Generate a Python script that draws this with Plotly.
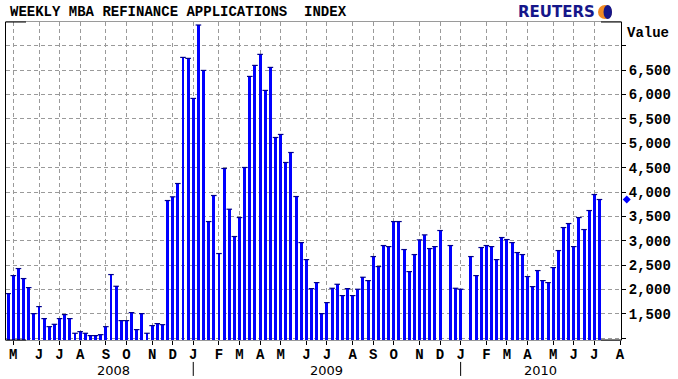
import pandas as pd
import plotly.graph_objects as go

# ---------------- data ----------------
first_week = "2008-04-25"   # weekly (Friday) observations
index_values = [
    1917, 2286, 2430, 2225, 2040, 1506, 1650, 1404, 1239, 1287,
    1404, 1486, 1404, 1103, 1137, 1103, 1055, 1055, 1075, 1239,
    2307, 2067, 1363, 1363, 1527, 1178, 1506, 1103, 1260, 1301,
    1280, 3825, 3901, 4174, 6760, 6740, 5919, 7424, 6493, 3394,
    3928, 2738, 4482, 3647, 3087, 3476, 4503, 6370, 6596, 6822,
    6083, 6555, 5118, 5180, 4605, 4810, 3907, 2963, 2614, 2019,
    2142, 1506, 1732, 2026, 2108, 1876, 2019, 1876, 2006, 2252,
    2183, 2676, 2471, 2902, 2881, 3394, 3394, 2820, 2368, 2717,
    3018, 3121, 2840, 2881, 3210, None, 2902, 2026, 2006, None,
    2676, 2286, 2861, 2902, 2881, 2614, 3066, 3025, 2963, 2758,
    2717, 2266, 2060, 2389, 2183, 2142, 2450, 2799, 3271, 3353,
    2881, 3476, 3230, 3620, 3948, 3846,
]
month_labels = ["M", "J", "J", "A", "S", "O", "N", "D",
                "J", "F", "M", "A", "M", "J", "J", "A", "S", "O", "N", "D",
                "J", "F", "M", "A", "M", "J", "J", "A"]
year_labels = ["2008", "2009", "2010"]
y_tick_values = [1000, 1500, 2000, 2500, 3000, 3500, 4000, 4500, 5000, 5500, 6000, 6500, 7000]
y_tick_text = ["", "1,500", "2,000", "2,500", "3,000", "3,500", "4,000", "4,500",
               "5,000", "5,500", "6,000", "6,500", ""]

dates = pd.date_range(first_week, periods=len(index_values), freq="7D")

# month ticks: first weekly date of each month, May 2008 .. Aug 2010
all_fridays = pd.date_range("2008-05-01", "2010-08-06", freq="W-FRI")
tick_dates = pd.Series(all_fridays).groupby([all_fridays.year, all_fridays.month]).first().tolist()

x_start = pd.Timestamp("2008-04-22 01:30")
x_end = pd.Timestamp("2010-08-07 08:00")
y_min, y_max = 965, 7486

MONO = "Liberation Mono, Courier New, monospace"
SANS = "DejaVu Sans, Verdana, sans-serif"
GRID = "#9a9a9a"

fig = go.Figure()
fig.add_trace(go.Bar(
    x=dates, y=index_values,
    width=4.0 * 86400000,
    marker=dict(color="#0000ff", line=dict(width=0)),
    hoverinfo="x+y", showlegend=False,
))
# dark caps on bar tops
fig.add_trace(go.Scatter(
    x=dates, y=index_values, mode="markers",
    marker=dict(symbol="line-ew", size=4, line=dict(color="#00008b", width=1.2)),
    hoverinfo="skip", showlegend=False,
))

fig.update_layout(
    width=678, height=379,
    margin=dict(l=6, r=57, t=22, b=39, autoexpand=False),
    paper_bgcolor="white", plot_bgcolor="white",
    bargap=0,
    xaxis=dict(
        type="date", range=[x_start, x_end],
        tickvals=tick_dates, ticktext=month_labels, tickangle=0, automargin=False,
        tickfont=dict(family=MONO, size=14, color="black", weight="bold"),
        ticks="outside", ticklen=4, tickcolor="black", ticklabelstandoff=-3,
        showgrid=True, gridcolor=GRID, griddash="4px,3px", gridwidth=1,
        showline=True, linecolor=GRID, linewidth=1, mirror=True,
        zeroline=False, fixedrange=True,
    ),
    yaxis=dict(
        side="right", range=[y_min, y_max], automargin=False,
        tickvals=y_tick_values, ticktext=y_tick_text,
        tickfont=dict(family=MONO, size=14, color="black", weight="bold"),
        ticks="outside", ticklen=4, tickcolor="black",
        showgrid=True, gridcolor=GRID, griddash="4px,3px", gridwidth=1,
        showline=True, linecolor="black", linewidth=1, mirror=True,
        zeroline=False, fixedrange=True,
    ),
)

annotations = [
    dict(text="WEEKLY MBA REFINANCE APPLICATIONS  INDEX", xref="paper", yref="paper",
         x=0.003, y=1.031, xanchor="left", yanchor="middle", showarrow=False,
         font=dict(family=MONO, size=14, color="black", weight="bold")),
    dict(text="Value", xref="paper", yref="paper", x=1.007, y=0.966,
         xanchor="left", yanchor="middle", showarrow=False,
         font=dict(family=MONO, size=14, color="black", weight="bold")),
    dict(text="REUTERS", xref="paper", yref="paper", x=0.829, y=1.031,
         xanchor="left", yanchor="middle", showarrow=False,
         font=dict(family=SANS, size=15, color="#15168a", weight="bold")),
]
year_pos = [pd.Timestamp("2008-09-16"), pd.Timestamp("2009-07-03"), pd.Timestamp("2010-04-20")]
for lab, xp in zip(year_labels, year_pos):
    annotations.append(dict(text=lab, xref="x", yref="paper", x=xp, y=-0.097,
                            xanchor="center", yanchor="middle", showarrow=False,
                            font=dict(family=SANS, size=13, color="black")))
fig.update_layout(annotations=annotations)

shapes = []
# year separators at January ticks
for d in tick_dates:
    if d.month == 1:
        shapes.append(dict(type="line", xref="x", yref="paper", x0=d, x1=d,
                           y0=-0.069, y1=-0.113, line=dict(color="black", width=1)))
# black corner segments
seg = 20 / 615
for (xa, xb) in [(0, seg), (1 - seg, 1)]:
    for yv in [0, 1]:
        shapes.append(dict(type="line", xref="paper", yref="paper", x0=xa, x1=xb,
                           y0=yv, y1=yv, line=dict(color="black", width=1)))
# last-value diamond on the value axis
last_val = [v for v in index_values if v is not None][-1]
px_per_unit = 318 / (y_max - y_min)
dy = 4 / px_per_unit
cx, dx = 1.0093, 4 / 615
shapes.append(dict(type="path", xref="paper", yref="y",
                   path=f"M {cx},{last_val + dy} L {cx + dx},{last_val} "
                        f"L {cx},{last_val - dy} L {cx - dx},{last_val} Z",
                   fillcolor="#0000ff", line=dict(width=0)))
# Reuters globe mark
shapes.append(dict(type="circle", xref="paper", yref="paper",
                   x0=0.9626, x1=0.9854, y0=1.0094, y1=1.0535,
                   fillcolor="#f08a24", line=dict(width=0)))
shapes.append(dict(type="circle", xref="paper", yref="paper",
                   x0=0.9716, x1=0.9854, y0=1.0094, y1=1.0535,
                   fillcolor="#15168a", line=dict(width=0)))
fig.update_layout(shapes=shapes)

fig.write_html("out.html")
